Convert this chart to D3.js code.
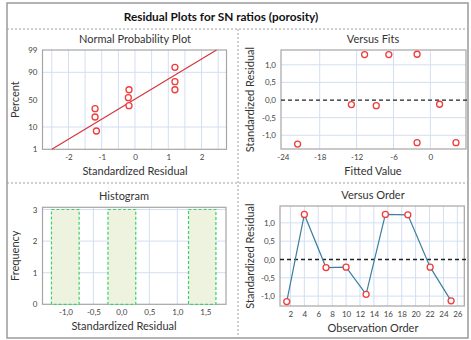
<!DOCTYPE html>
<html><head><meta charset="utf-8">
<script src="https://cdn.jsdelivr.net/npm/d3@7"></script>
<style>
html,body{margin:0;padding:0;background:#fff;}
svg{display:block;font-family:Lato,"Open Sans",sans-serif;}
</style></head>
<body><svg id="c" width="471" height="340"></svg>
<script>
// ---------- data ----------
const chartTitle = "Residual Plots for SN ratios (porosity)";
// Normal probability plot
const npResid = [-1.16, -1.2, -1.2, -0.18, -0.2, -0.18, 1.2, 1.2, 1.2];
const npPercent = [7.1, 20.8, 33.6, 38.9, 53.6, 67.9, 67.9, 80, 93.5];
const npFitResid = [-2.5, 2.45];
const npFitPercent = [1, 99];
const npXTicks = [-2, -1, 0, 1, 2];
const npYTicks = [1, 10, 50, 90, 99];
const npYGrid = [10, 90];
// Versus fits
const vfFitted = [-21.6, -12.85, -10.7, -8.8, -6.76, -2.16, -2.16, 1.5, 4.17];
const vfResid = [-1.25, -0.13, 1.29, -0.16, 1.29, 1.3, -1.21, -0.12, -1.21];
const vfXTicks = [-24, -18, -12, -6, 0];
const vfYTicks = [-1.0, -0.5, 0.0, 0.5, 1.0];
// Histogram
const histLow = [-1.25, -0.24, 1.2];
const histHigh = [-0.755, 0.257, 1.69];
const histCount = [3, 3, 3];
const histXTicks = [-1.0, -0.5, 0.0, 0.5, 1.0, 1.5];
const histYTicks = [0, 1, 2, 3];
// Versus order
const voOrder = [1.47, 4.0, 7.12, 10.0, 12.88, 15.65, 18.88, 22.09, 25.1];
const voResid = [-1.15, 1.23, -0.22, -0.21, -0.95, 1.23, 1.22, -0.21, -1.13];
const voXTicks = [2, 4, 6, 8, 10, 12, 14, 16, 18, 20, 22, 24, 26];
const voYTicks = [-1.0, -0.5, 0.0, 0.5, 1.0];

// ---------- helpers ----------
const loc = d3.formatLocale({decimal: ",", thousands: ".", grouping: [3], currency: ["", ""], minus: "-"});
const f1 = loc.format(".1f");
const f0 = loc.format("d");

function probit(p) {
  const a = [-3.969683028665376e+01, 2.209460984245205e+02, -2.759285104469687e+02, 1.383577518672690e+02, -3.066479806614716e+01, 2.506628277459239e+00];
  const b = [-5.447609879822406e+01, 1.615858368580409e+02, -1.556989798598866e+02, 6.680131188771972e+01, -1.328068155288572e+01];
  const c = [-7.784894002430293e-03, -3.223964580411365e-01, -2.400758277161838e+00, -2.549732539343734e+00, 4.374664141464968e+00, 2.938163982698783e+00];
  const d = [7.784695709041462e-03, 3.224671290700398e-01, 2.445134137142996e+00, 3.754408661907416e+00];
  const pl = 0.02425, ph = 1 - pl;
  let q, r;
  if (p < pl) { q = Math.sqrt(-2 * Math.log(p)); return (((((c[0]*q+c[1])*q+c[2])*q+c[3])*q+c[4])*q+c[5]) / ((((d[0]*q+d[1])*q+d[2])*q+d[3])*q+1); }
  if (p <= ph) { q = p - 0.5; r = q*q; return (((((a[0]*r+a[1])*r+a[2])*r+a[3])*r+a[4])*r+a[5])*q / (((((b[0]*r+b[1])*r+b[2])*r+b[3])*r+b[4])*r+1); }
  q = Math.sqrt(-2 * Math.log(1 - p)); return -(((((c[0]*q+c[1])*q+c[2])*q+c[3])*q+c[4])*q+c[5]) / ((((d[0]*q+d[1])*q+d[2])*q+d[3])*q+1);
}

const svg = d3.select("#c");
const GRID = "#d3def3", FRAME = "#a6a6a6", TXT = "#333", RED = "#f03c3c";

// outer frame & separators
svg.append("rect").attr("x", 7).attr("y", 3).attr("width", 461).attr("height", 335)
  .attr("fill", "none").attr("stroke", "#9a9a9a").attr("stroke-width", 1.5);
const sep = [[7, 29, 468, 29], [7, 183, 468, 183], [238, 29, 238, 338]];
sep.forEach(s => svg.append("line").attr("x1", s[0]).attr("y1", s[1]).attr("x2", s[2]).attr("y2", s[3])
  .attr("stroke", "#a0a0a0").attr("stroke-width", 1).attr("stroke-dasharray", "2,2"));
svg.append("text").attr("x", 221).attr("y", 21).attr("text-anchor", "middle")
  .attr("font-size", 11.8).attr("font-weight", "bold").attr("fill", "#111").text(chartTitle);

function panel(o) {
  const g = svg.append("g");
  const {x0, x1, y0, y1} = o;
  const yv = o.yval || (v => o.ys(v));
  // grid
  (o.vgrid || []).forEach(v => g.append("line").attr("x1", o.xs(v)).attr("x2", o.xs(v)).attr("y1", y0).attr("y2", y1).attr("stroke", GRID).attr("stroke-width", 1));
  (o.hgrid || []).forEach(v => g.append("line").attr("y1", yv(v)).attr("y2", yv(v)).attr("x1", x0).attr("x2", x1).attr("stroke", GRID).attr("stroke-width", 1));
  // frame
  g.append("rect").attr("x", x0).attr("y", y0).attr("width", x1 - x0).attr("height", y1 - y0)
    .attr("fill", "none").attr("stroke", FRAME).attr("stroke-width", 1.2);
  // axes (labels only)
  const xa = d3.axisBottom(o.xs).tickValues(o.xticks).tickFormat(o.xfmt).tickSize(0).tickPadding(5);
  const ya = d3.axisLeft(o.ys).tickValues(o.yticks).tickFormat(o.yfmt).tickSize(0).tickPadding(5);
  const gx = g.append("g").attr("transform", `translate(0,${y1})`).call(xa);
  const gy = g.append("g").attr("transform", `translate(${x0},0)`).call(ya);
  [gx, gy].forEach(a => { a.select(".domain").remove(); a.selectAll("text").attr("font-size", 8).attr("fill", "#444").attr("font-family", "Lato"); });
  // titles
  g.append("text").attr("x", o.tx).attr("y", y0 - 7).attr("text-anchor", "middle").attr("font-size", 11).attr("fill", TXT).text(o.title);
  g.append("text").attr("x", o.tx).attr("y", y1 + 26).attr("text-anchor", "middle").attr("font-size", 11).attr("fill", TXT).text(o.xlab);
  g.append("text").attr("transform", `translate(${o.ylx},${(y0 + y1) / 2}) rotate(-90)`).attr("text-anchor", "middle")
    .attr("font-size", 11).attr("fill", TXT).text(o.ylab);
  return g;
}

function markers(g, xs, ys, xv, yv) {
  g.selectAll(null).data(xv).enter().append("circle")
    .attr("cx", d => xs(d)).attr("cy", (d, i) => ys(yv[i])).attr("r", 3)
    .attr("fill", "#fff").attr("stroke", RED).attr("stroke-width", 1.3);
}

// ---------- Normal probability plot ----------
{
  const x0 = 42.5, x1 = 226.5, y0 = 50, y1 = 149.3;
  const xs = d3.scaleLinear().domain([-2.78, 2.75]).range([x0, x1]);
  const zs = d3.scaleLinear().domain([probit(0.01), probit(0.99)]).range([y1, y0]);
  const yp = p => zs(probit(p / 100));
  const zTicks = npYTicks.map(p => probit(p / 100));
  const g = panel({x0, x1, y0, y1, xs, ys: zs, yval: yp, xticks: npXTicks, yticks: zTicks, xfmt: f0,
    yfmt: (d, i) => f0(npYTicks[i]),
    vgrid: d3.range(-2.5, 2.51, 0.5), hgrid: npYGrid, title: "Normal Probability Plot",
    xlab: "Standardized Residual", ylab: "Percent", tx: 135, ylx: 19});
  g.append("line").attr("x1", xs(npFitResid[0])).attr("y1", yp(npFitPercent[0]))
    .attr("x2", xs(npFitResid[1])).attr("y2", yp(npFitPercent[1])).attr("stroke", "#d2383c").attr("stroke-width", 1.2);
  markers(g, xs, yp, npResid, npPercent);
}

// ---------- Versus fits ----------
{
  const x0 = 281, x1 = 466, y0 = 50, y1 = 149;
  const xs = d3.scaleLinear().domain([-24.3, 5.8]).range([x0, x1]);
  const ys = d3.scaleLinear().domain([-1.39, 1.42]).range([y1, y0]);
  const g = panel({x0, x1, y0, y1, xs, ys, xticks: vfXTicks, yticks: vfYTicks, xfmt: f0, yfmt: f1,
    vgrid: [-18, -12, -6, 0], hgrid: [-1, -0.5, 0.5, 1], title: "Versus Fits",
    xlab: "Fitted Value", ylab: "Standardized Residual", tx: 373, ylx: 254});
  g.append("line").attr("x1", x0).attr("x2", x1 + 2).attr("y1", ys(0)).attr("y2", ys(0))
    .attr("stroke", "#222").attr("stroke-width", 1.2).attr("stroke-dasharray", "4,3");
  markers(g, xs, ys, vfFitted, vfResid);
}

// ---------- Histogram ----------
{
  const x0 = 42.5, x1 = 226, y0 = 207.3, y1 = 304.3;
  const xs = d3.scaleLinear().domain([-1.41, 1.87]).range([x0, x1]);
  const ys = d3.scaleLinear().domain([0, 3.07]).range([y1, y0]);
  const g = panel({x0, x1, y0, y1, xs, ys, xticks: histXTicks, yticks: histYTicks, xfmt: f1, yfmt: f0,
    vgrid: d3.range(-1, 1.51, 0.5), hgrid: [1, 2, 3], title: "Histogram",
    xlab: "Standardized Residual", ylab: "Frequency", tx: 124, ylx: 19});
  g.selectAll(null).data(histCount).enter().append("rect")
    .attr("x", (d, i) => xs(histLow[i])).attr("width", (d, i) => xs(histHigh[i]) - xs(histLow[i]))
    .attr("y", d => ys(d)).attr("height", d => ys(0) - ys(d))
    .attr("fill", "#eef3df").attr("stroke", "#3ccf6a").attr("stroke-width", 1.2).attr("stroke-dasharray", "3,2");
}

// ---------- Versus order ----------
{
  const x0 = 280, x1 = 464.3, y0 = 206, y1 = 306;
  const xs = d3.scaleLinear().domain([0.5, 27]).range([x0, x1]);
  const ys = d3.scaleLinear().domain([-1.27, 1.46]).range([y1, y0]);
  const g = panel({x0, x1, y0, y1, xs, ys, xticks: voXTicks, yticks: voYTicks, xfmt: f0, yfmt: f1,
    vgrid: voXTicks, hgrid: [-1, -0.5, 0.5, 1], title: "Versus Order",
    xlab: "Observation Order", ylab: "Standardized Residual", tx: 373, ylx: 254});
  g.append("line").attr("x1", x0).attr("x2", x1 + 3).attr("y1", ys(0)).attr("y2", ys(0))
    .attr("stroke", "#222").attr("stroke-width", 1.3).attr("stroke-dasharray", "4,3");
  const line = d3.line().x(d => xs(d[0])).y(d => ys(d[1]));
  g.append("path").datum(voOrder.map((d, i) => [d, voResid[i]])).attr("d", line)
    .attr("fill", "none").attr("stroke", "#3c7fa0").attr("stroke-width", 1.2);
  markers(g, xs, ys, voOrder, voResid);
}
</script></body></html>
